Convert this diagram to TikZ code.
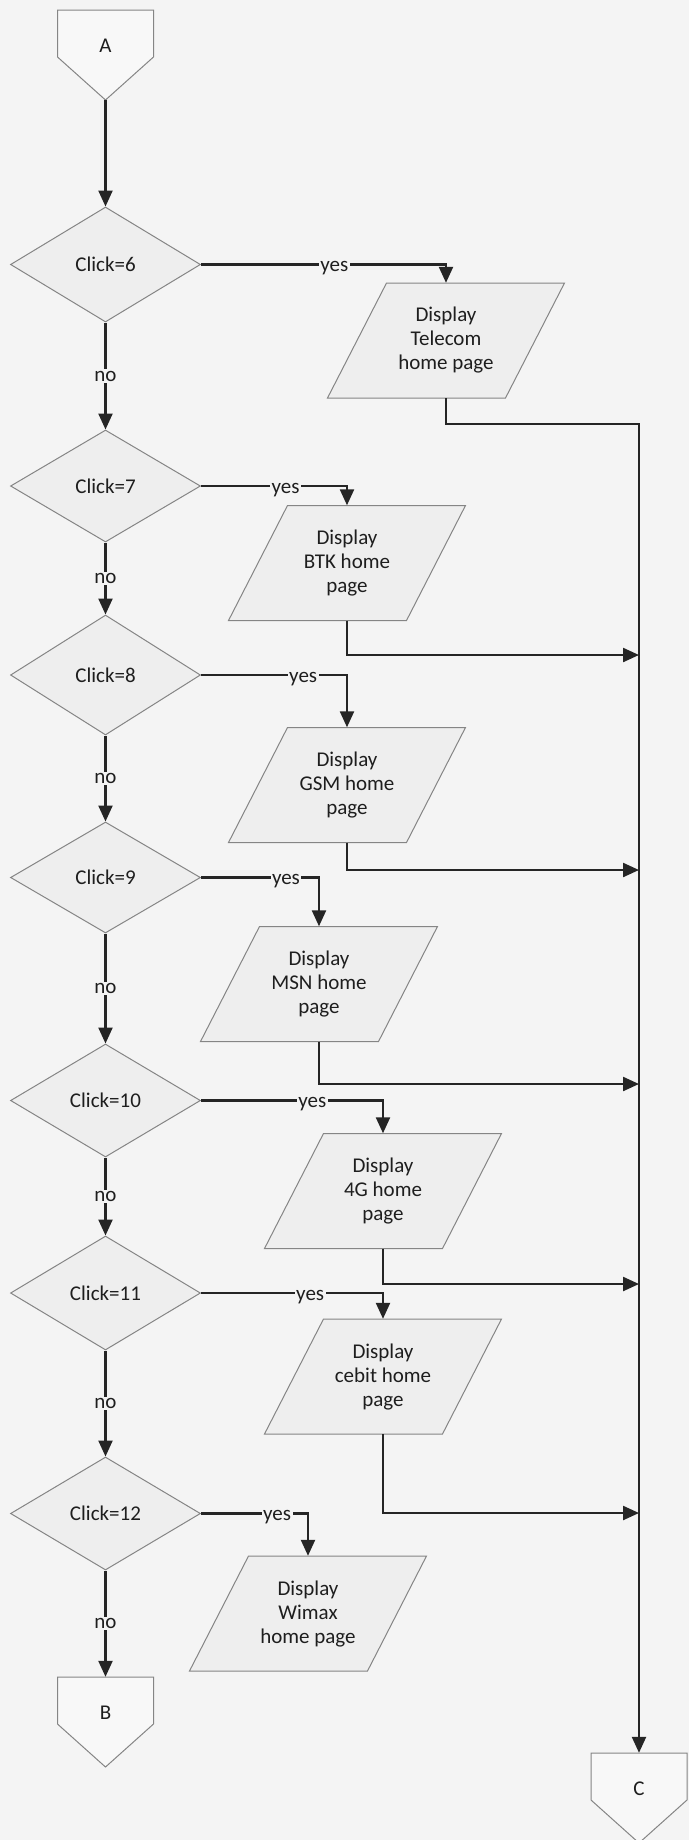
\documentclass[tikz,border=0pt]{standalone}
\usepackage{fontspec}
\setmainfont{Carlito}
\usetikzlibrary{shapes.geometric,arrows.meta}
\definecolor{pagebg}{HTML}{F4F4F4}
\definecolor{boxfill}{HTML}{EEEEEE}
\definecolor{boxline}{HTML}{858585}
\definecolor{flowline}{HTML}{252525}
\definecolor{txt}{HTML}{1E1E1E}
\newcommand\ioshape[4]{%
  \draw[ioborder] ({#2-118.5},{#3+57.5}) -- ({#2+59.5},{#3+57.5}) -- ({#2+118.5},{#3-57.5}) -- ({#2-59.5},{#3-57.5}) -- cycle;
  \node[iotext] (#1) at (#2,#3) {#4};}
\newcommand\offpage[4]{%
  \draw[ioborder, fill=boxfill!40!white] ({#2-48},#3) -- ({#2+48},#3) -- ({#2+48},{#3+47}) -- (#2,{#3+90}) -- ({#2-48},{#3+47}) -- cycle;
  \node[conbox, label={[yshift=9pt]center:#4}] (#1) at (#2,{#3+45}) {};}
\begin{document}
\begin{tikzpicture}[x=1pt,y=-1pt,
  every node/.style={font=\fontsize{21}{24}\selectfont, text=txt},
  ioborder/.style={draw=boxline, fill=boxfill, line width=1pt, line join=miter},
  iotext/.style={rectangle, minimum width=178pt, minimum height=115pt, inner sep=0pt, align=center},
  conbox/.style={rectangle, minimum width=96pt, minimum height=90pt, inner sep=0pt},
  decision/.style={diamond, draw=boxline, fill=boxfill, line width=1pt, inner sep=0pt, minimum width=190pt},
  flow/.style={draw=flowline, line width=2.3pt},
  flowarrow/.style={flow, -{Triangle[length=16pt,width=14pt]}},
  edgelabel/.style={fill=pagebg, inner sep=1.5pt},
  yeslabel/.style={fill=pagebg, inner sep=1.5pt, anchor=base, yshift=-7pt}]
\fill[pagebg] (0,0) rectangle (689,1840);
\useasboundingbox (0,0) rectangle (689,1840);

% off-page connectors
\offpage{A}{105.5}{10}{A}
\offpage{B}{105.5}{1677}{B}
\offpage{C}{639}{1753}{C}

% decisions
\node[decision, minimum height=115pt] (D6)  at (105.5,264.5) {Click=6};
\node[decision, minimum height=112pt] (D7)  at (105.5,486)   {Click=7};
\node[decision, minimum height=120pt] (D8)  at (105.5,675)   {Click=8};
\node[decision, minimum height=111pt] (D9)  at (105.5,877.5) {Click=9};
\node[decision, minimum height=113pt] (D10) at (105.5,1100.5){Click=10};
\node[decision, minimum height=114pt] (D11) at (105.5,1293)  {Click=11};
\node[decision, minimum height=113pt] (D12) at (105.5,1513.5){Click=12};

% display boxes
\ioshape{P6}{446}{340.5}{Display\\Telecom\\home page}
\ioshape{P7}{347}{563}{Display\\BTK home\\page}
\ioshape{P8}{347}{785}{Display\\GSM home\\page}
\ioshape{P9}{319}{984}{Display\\MSN home\\page}
\ioshape{P10}{383}{1191}{Display\\4G home\\page}
\ioshape{P11}{383}{1376.5}{Display\\cebit home\\page}
\ioshape{P12}{308}{1613.5}{Display\\Wimax\\home page}

% junction points on the collecting line
\coordinate (J7)  at (639,655);
\coordinate (J8)  at (639,870);
\coordinate (J9)  at (639,1084);
\coordinate (J10) at (639,1284);
\coordinate (J11) at (639,1513);

% main flow
\draw[flowarrow] (A.south) -- (D6.north);
\draw[flowarrow] (D6.south) -- node[edgelabel]{no} (D7.north);
\draw[flowarrow] (D7.south) -- node[edgelabel]{no} (D8.north);
\draw[flowarrow] (D8.south) -- node[edgelabel]{no} (D9.north);
\draw[flowarrow] (D9.south) -- node[edgelabel]{no} (D10.north);
\draw[flowarrow] (D10.south) -- node[edgelabel]{no} (D11.north);
\draw[flowarrow] (D11.south) -- node[edgelabel]{no} (D12.north);
\draw[flowarrow] (D12.south) -- node[edgelabel]{no} (B.north);

% yes branches
\draw[flowarrow] (D6.east)  -| node[yeslabel, pos=0.272]{yes} (P6.north);
\draw[flowarrow] (D7.east)  -| node[yeslabel, pos=0.29]{yes} (P7.north);
\draw[flowarrow] (D8.east)  -| node[yeslabel, pos=0.35]{yes} (P8.north);
\draw[flowarrow] (D9.east)  -| node[yeslabel, pos=0.36]{yes} (P9.north);
\draw[flowarrow] (D10.east) -| node[yeslabel, pos=0.306]{yes} (P10.north);
\draw[flowarrow] (D11.east) -| node[yeslabel, pos=0.30]{yes} (P11.north);
\draw[flowarrow] (D12.east) -| node[yeslabel, pos=0.356]{yes} (P12.north);

% exits to collecting line
\draw[flowarrow] (P6.south) -- ++(0,26) -| (C.north);
\draw[flowarrow] (P7.south)  |- (J7);
\draw[flowarrow] (P8.south)  |- (J8);
\draw[flowarrow] (P9.south)  |- (J9);
\draw[flowarrow] (P10.south) |- (J10);
\draw[flowarrow] (P11.south) |- (J11);
\end{tikzpicture}
\end{document}
